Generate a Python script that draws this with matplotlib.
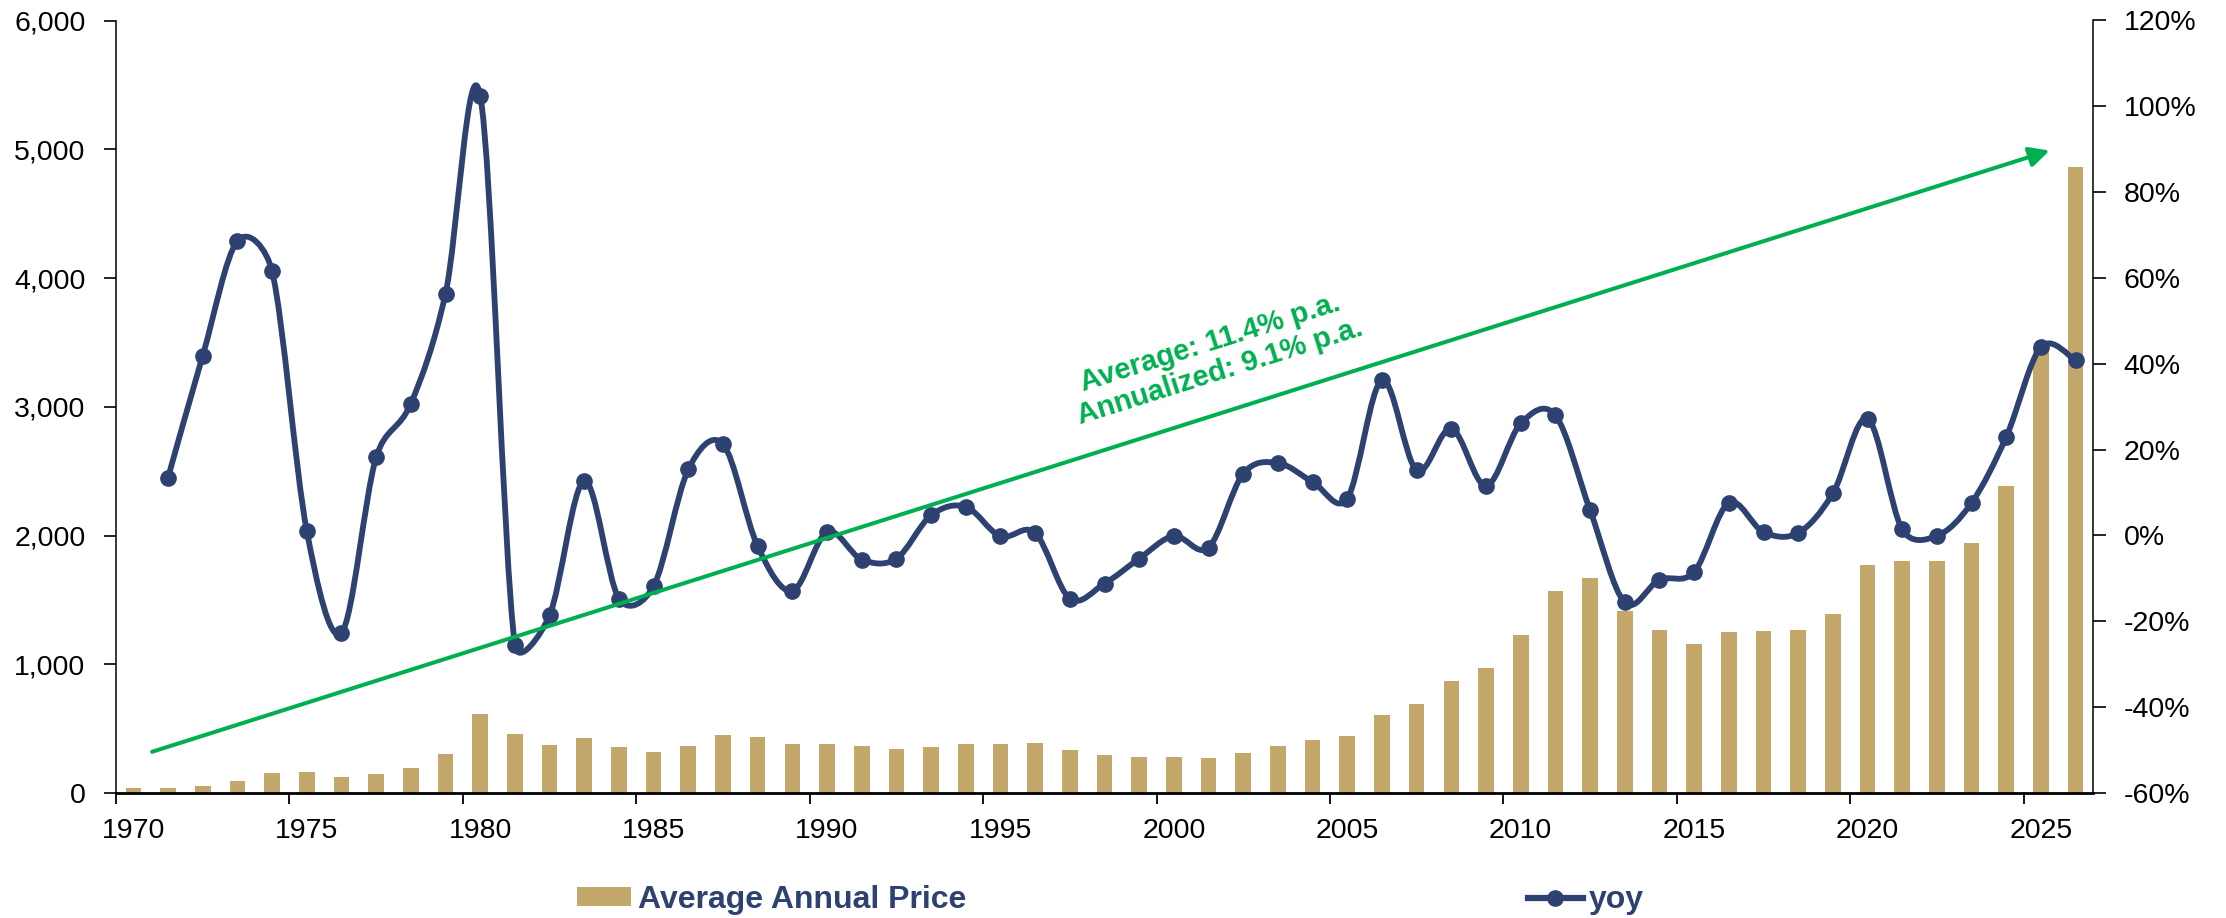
import numpy as np
import matplotlib
matplotlib.use('Agg')
import matplotlib.pyplot as plt
from matplotlib.path import Path
from matplotlib.patches import PathPatch, Patch
from matplotlib.lines import Line2D
from matplotlib.ticker import FuncFormatter, PercentFormatter

plt.rcParams['font.family'] = ['Liberation Sans', 'DejaVu Sans']
plt.rcParams['axes.unicode_minus'] = False

# average annual price, 1970..2026
years = list(range(1970, 2027))
avg_price = [36, 41, 58, 97, 154, 161, 125, 148, 193, 306,
             615, 460, 376, 424, 361, 317, 368, 447, 437, 381,
             384, 362, 344, 360, 384, 384, 388, 331, 294, 279,
             279, 271, 310, 363, 409, 444, 603, 695, 872, 972,
             1225, 1572, 1669, 1411, 1266, 1160, 1251, 1257, 1268, 1393,
             1770, 1799, 1800, 1941, 2386, 3460, 4860]

# year-over-year change in %, 1971..2026
yoy_years = list(range(1971, 2027))
yoy = [13.5, 41.9, 68.6, 61.6, 1.1, -22.7, 18.2, 30.7, 56.3,
       102.5, -25.5, -18.6, 12.7, -14.7, -11.8, 15.4, 21.3, -2.5, -12.9,
       0.8, -5.6, -5.4, 4.7, 6.7, -0.2, 0.6, -14.7, -11.2, -5.4,
       -0.1, -2.8, 14.4, 16.9, 12.5, 8.6, 36.2, 15.2, 24.9, 11.6,
       26.1, 28.0, 5.9, -15.6, -10.3, -8.5, 7.6, 0.8, 0.6, 9.8,
       27.2, 1.4, -0.1, 7.6, 23.0, 43.9, 40.8]

trend_start = (1970.54, 320)
trend_end = (2025.25, 4990)
trend_label = 'Average: 11.4% p.a.\nAnnualized: 9.1% p.a.'

NAVY = '#2E4272'
GOLD = '#C4A86B'
GREEN = '#00B050'


def smooth_path(xs, ys, sx, sy):
    # excel-like smoothed line: bezier, tangent = (next - prev)/6,
    # capped at half the segment length (done in pixel space)
    pts = np.column_stack([np.asarray(xs) * sx, np.asarray(ys) * sy]).astype(float)
    n = len(pts)
    verts = [pts[0]]
    codes = [Path.MOVETO]
    for i in range(n - 1):
        p0 = pts[i - 1] if i > 0 else pts[i]
        p1 = pts[i]
        p2 = pts[i + 1]
        p3 = pts[i + 2] if i + 2 < n else pts[i + 1]
        d12 = np.hypot(*(p2 - p1))
        d02 = np.hypot(*(p2 - p0))
        d13 = np.hypot(*(p3 - p1))
        f0 = min(1 / 6, d12 / (2 * d02)) if d02 > 0 else 0
        f1 = min(1 / 6, d12 / (2 * d13)) if d13 > 0 else 0
        verts += [p1 + (p2 - p0) * f0, p2 - (p3 - p1) * f1, p2]
        codes += [Path.CURVE4] * 3
    verts = np.array(verts) / np.array([sx, sy])
    return Path(verts, codes)


W, H = 2226, 918
fig = plt.figure(figsize=(W / 100, H / 100), dpi=100)
ax_w, ax_h = 2093 - 116, 793 - 20.5
ax = fig.add_axes([116 / W, 1 - 793 / H, ax_w / W, ax_h / H])

x = np.arange(len(years))
ax.bar(x, avg_price, width=0.45, color=GOLD, zorder=2)
ax.set_xlim(-0.5, len(years) - 0.5)
ax.set_ylim(0, 6000)
ax.set_yticks(range(0, 6001, 1000))
ax.yaxis.set_major_formatter(FuncFormatter(lambda v, p: f'{v:,.0f}'))

ax.set_xticks(np.arange(-0.5, len(years) - 1, 5))
ax.set_xticklabels([])
ax.set_xticks(np.arange(0, len(years), 5), minor=True)
ax.set_xticklabels([str(years[i]) for i in range(0, len(years), 5)], minor=True)
ax.tick_params(axis='x', which='minor', length=0, pad=18, labelsize=20.5)
ax.tick_params(axis='x', which='major', length=8, width=1.3)
ax.tick_params(axis='y', length=9, width=1.2, pad=13, labelsize=20.5)
for s in ['top', 'right']:
    ax.spines[s].set_visible(False)
ax.spines['left'].set_linewidth(1.1)
ax.spines['bottom'].set_linewidth(2.0)
ax.spines['bottom'].set_zorder(5)

ax2 = ax.twinx()
ax2.set_ylim(-0.6, 1.2)
ax2.set_yticks(np.linspace(-0.6, 1.2, 10))
ax2.yaxis.set_major_formatter(PercentFormatter(1.0, decimals=0))
ax2.tick_params(axis='y', length=9, width=1.2, pad=13, labelsize=20.5)
for s in ['top', 'left', 'bottom']:
    ax2.spines[s].set_visible(False)
ax2.spines['right'].set_linewidth(1.1)

xi = np.array([years.index(y) for y in yoy_years])
yv = np.array(yoy) / 100
sx = ax_w / len(years)
sy = ax_h / 1.8
ax2.add_patch(PathPatch(smooth_path(xi, yv, sx, sy), facecolor='none', edgecolor=NAVY,
                        lw=4.2, capstyle='round', joinstyle='round', zorder=3))
ax2.plot(xi, yv, 'o', color=NAVY, ms=11, zorder=4)

# trend arrow + label (left axis units)
x0 = trend_start[0] - years[0]
x1 = trend_end[0] - years[0]
ax2.annotate('', xy=(x1, trend_end[1]), xycoords=ax.transData,
             xytext=(x0, trend_start[1]), textcoords=ax.transData,
             arrowprops=dict(arrowstyle='-|>,head_length=0.6,head_width=0.3',
                             color=GREEN, lw=2.9, mutation_scale=20,
                             shrinkA=0, shrinkB=0), zorder=5)
ax2.text(31.19, 3386, trend_label, transform=ax.transData, rotation=17.5,
         rotation_mode='anchor', ha='center', va='center', multialignment='center',
         color=GREEN, fontweight='bold', fontsize=21, linespacing=1.1, zorder=6)

handles = [Patch(facecolor=GOLD, edgecolor='none'),
           Line2D([], [], color=NAVY, lw=4.5, marker='o', ms=11)]
leg = fig.legend(handles, ['Average Annual Price', 'yoy'], loc='center left',
                 bbox_to_anchor=(577 / W, 1 - 900 / H), ncol=2, frameon=False,
                 prop=dict(weight='bold', size=23), handlelength=1.7, handleheight=0.55,
                 handletextpad=0.2, columnspacing=17.6, borderpad=0, borderaxespad=0)
for t in leg.get_texts():
    t.set_color(NAVY)

fig.savefig('out.png', dpi=100)
